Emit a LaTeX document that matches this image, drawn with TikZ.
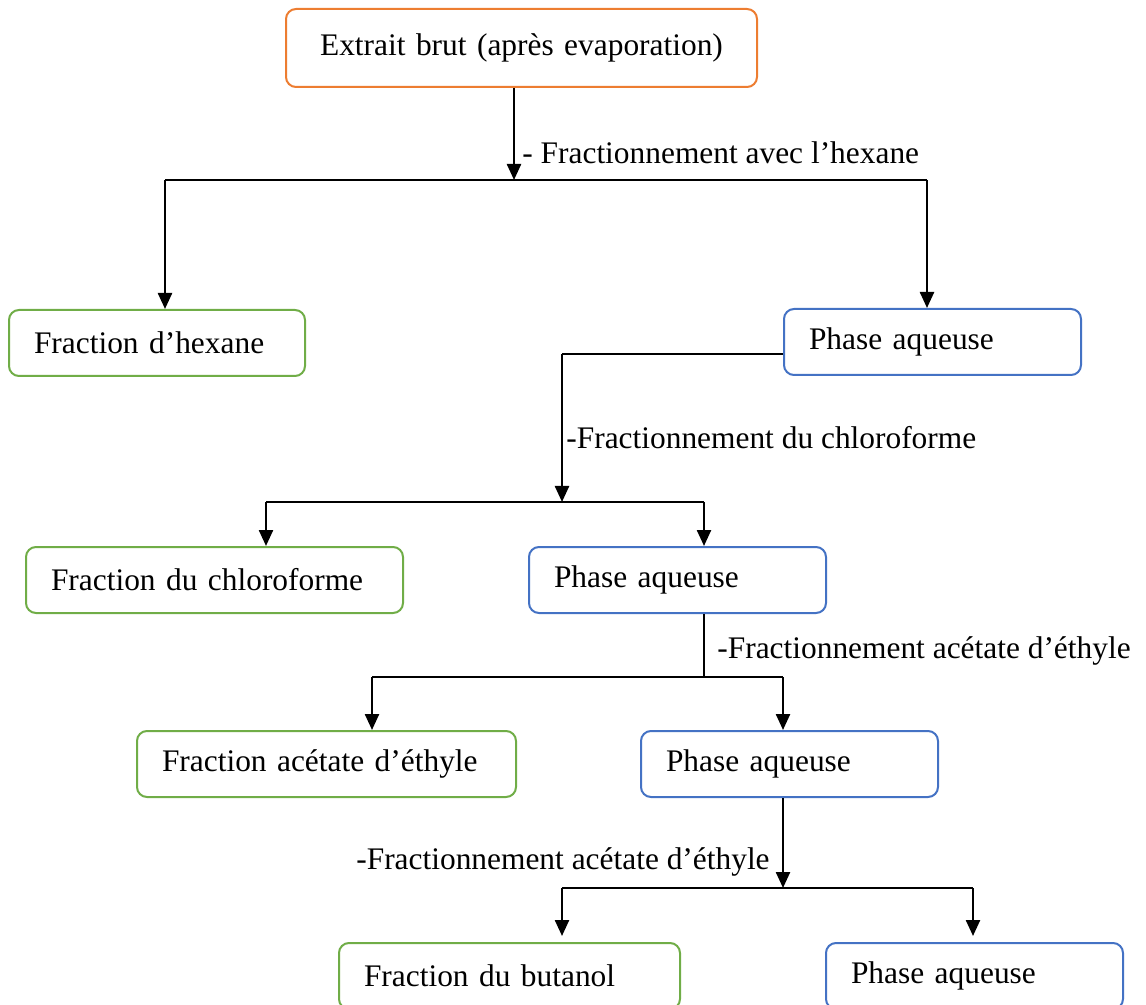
\documentclass[tikz,border=0pt]{standalone}
\usepackage{fontspec}
\setmainfont{Liberation Serif}
\usetikzlibrary{arrows.meta}
\definecolor{orangebox}{HTML}{ED7D31}
\definecolor{greenbox}{HTML}{70AD47}
\definecolor{bluebox}{HTML}{4472C4}
\tikzset{
	box/.style={draw, rounded corners=5pt, line width=1pt, minimum height=33pt, inner xsep=12.5pt, inner ysep=0pt, align=left, anchor=north west, fill=white, font=\fontsize{15.7}{19}\selectfont},
	fracbox/.style={box, draw=greenbox, text width=#1},
	aqbox/.style={box, draw=bluebox, text width=123.5pt},
	lab/.style={inner sep=0pt, anchor=west, font=\fontsize{15.7}{19}\selectfont},
	arr/.style={line width=1.2pt, -{Triangle[length=8pt, width=7pt]}},
	thinline/.style={line width=0.7pt}
}
\begin{document}
\begin{tikzpicture}[x=0.5pt, y=-0.5pt]
			%%%%% START %%%%%
			\useasboundingbox (0,0) rectangle (1146,1005);
			\clip (0,0) rectangle (1146,1005);
			
			% boxes
			\node[box, draw=orangebox, text width=210.5pt, align=center, minimum height=39pt] (extrait) at (285,8) {Extrait brut (après evaporation)};
			\node[fracbox=123pt] (hexane) at (8,309) {Fraction d’hexane};
			\node[aqbox] (aq1) at (783,308) {Phase aqueuse};
			\node[fracbox=163.5pt] (chloro) at (25,546) {Fraction du chloroforme};
			\node[aqbox] (aq2) at (528,546) {Phase aqueuse};
			\node[fracbox=164.5pt] (acetate) at (136,730) {Fraction acétate d’éthyle};
			\node[aqbox] (aq3) at (640,730) {Phase aqueuse};
			\node[fracbox=145.5pt] (butanol) at (338,942) {Fraction du butanol};
			\node[aqbox] (aq4) at (825,942) {Phase aqueuse};
			
			% junctions
			\coordinate (j1) at (514,180);
			\coordinate (l1) at (165,180);
			\coordinate (r1) at (927,180);
			\coordinate (k2) at (562,354);
			\coordinate (j2) at (562,502);
			\coordinate (l2) at (266,502);
			\coordinate (r2) at (704,502);
			\coordinate (j3) at (704,677);
			\coordinate (l3) at (372,677);
			\coordinate (r3) at (783,677);
			\coordinate (j4) at (783,888);
			\coordinate (l4) at (562,888);
			\coordinate (r4) at (973,888);
			
			% step 1
			\draw[arr] (j1 |- extrait.south) -- (j1);
			\draw[thinline] (l1) -- (r1);
			\draw[arr] (l1) -- (l1 |- hexane.north);
			\draw[arr] (r1) -- (r1 |- aq1.north);
			\node[lab] (t1) at (522,153) {- Fractionnement avec l’hexane};
			
			% step 2
			\draw[thinline] (k2 -| aq1.west) -- (k2);
			\draw[arr] (k2) -- (j2);
			\draw[thinline] (l2) -- (r2);
			\draw[arr] (l2) -- (l2 |- chloro.north);
			\draw[arr] (r2) -- (r2 |- aq2.north);
			\node[lab] (t2) at (566,438) {-Fractionnement du chloroforme};
			
			% step 3
			\draw[thinline] (j3 |- aq2.south) -- (j3);
			\draw[thinline] (l3) -- (r3);
			\draw[arr] (l3) -- (l3 |- acetate.north);
			\draw[arr] (r3) -- (r3 |- aq3.north);
			\node[lab] (t3) at (717,651) {-Fractionnement acétate d’éthyle};
			
			% step 4
			\draw[arr] (j4 |- aq3.south) -- (j4);
			\draw[thinline] (l4) -- (r4);
			\draw[arr] (l4) -- ([yshift=3pt]l4 |- butanol.north);
			\draw[arr] (r4) -- ([yshift=3pt]r4 |- aq4.north);
			\node[lab, anchor=east] (t4) at (770,862) {-Fractionnement acétate d’éthyle};
			
			%%%%% END %%%%%
\end{tikzpicture}
\end{document}
